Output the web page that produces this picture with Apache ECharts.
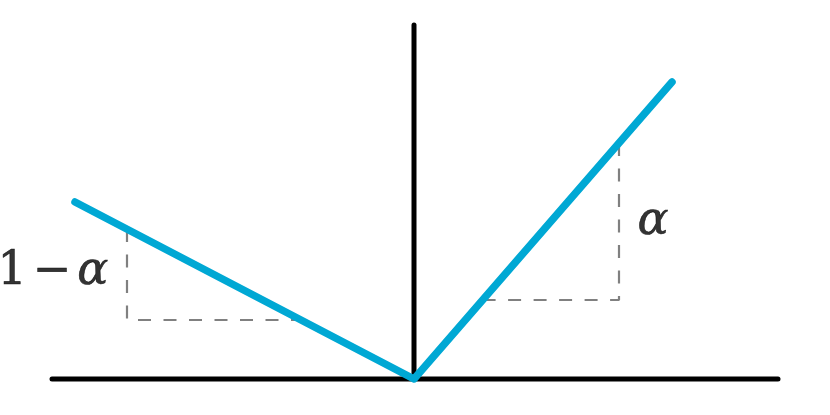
<!DOCTYPE html>
<html><head><meta charset="utf-8">
<script src="https://cdn.jsdelivr.net/npm/echarts@6/dist/echarts.min.js"></script>
<style>html,body{margin:0;padding:0;background:#fff}#c{width:830px;height:415px}</style>
</head><body><div id="c"></div>
<script>
// Data (units: 1 = 100 px, origin at the kink)
const lossCurve = [[-3.39, 1.77], [0, 0], [2.58, 2.97]];
const xAxisLine = [[-3.62, 0], [3.64, 0]];
const yAxisLine = [[0, 0], [0, 3.54]];
const leftSlope = [[-2.87, 1.50], [-2.87, 0.59], [-1.13, 0.59]];
const rightSlope = [[0.686, 0.79], [2.05, 0.79], [2.05, 2.36]];
const labels = [
  { text: '{n|1}{m|−}{a|α}', pos: [-3.61, 1.07] },
  { text: '{a|α}', pos: [2.39, 1.57] }
];

const chart = echarts.init(document.getElementById('c'));
const lineBase = { type: 'line', symbol: 'none', silent: true, animation: false };
const FONT = "'DejaVu Serif', serif";
const txt = { fontFamily: FONT, fontSize: 46, color: '#000000',
  textBorderColor: '#000000', textBorderWidth: 0.6 };
chart.setOption({
  animation: false,
  grid: { left: 0, right: 0, top: 0, bottom: 0 },
  xAxis: { type: 'value', min: -4.14, max: 4.16, show: false },
  yAxis: { type: 'value', min: -0.36, max: 3.79, show: false },
  series: [
    Object.assign({}, lineBase, { data: leftSlope, z: 1,
      lineStyle: { color: '#808080', width: 2.2, type: [13, 12.5] } }),
    Object.assign({}, lineBase, { data: rightSlope, z: 1,
      lineStyle: { color: '#808080', width: 2.2, type: [13, 12.5] } }),
    Object.assign({}, lineBase, { data: xAxisLine, z: 2,
      lineStyle: { color: '#000000', width: 5, cap: 'round' } }),
    Object.assign({}, lineBase, { data: yAxisLine, z: 2,
      lineStyle: { color: '#000000', width: 5, cap: 'round' } }),
    Object.assign({}, lineBase, { data: lossCurve, z: 3,
      lineStyle: { color: '#00a8d4', width: 7.5, cap: 'round', join: 'round' } }),
    {
      type: 'scatter', silent: true, symbolSize: 0, z: 4,
      data: labels.map(l => ({ value: l.pos, name: l.text })),
      label: {
        show: true, position: 'inside', formatter: p => p.name,
        color: '#000000', fontFamily: FONT, fontSize: 46,
        rich: {
          n: Object.assign({}, txt),
          m: Object.assign({}, txt, { padding: [0, 6, 0, 6] }),
          a: Object.assign({}, txt, { fontStyle: 'italic' })
        }
      }
    }
  ]
});
</script></body></html>
